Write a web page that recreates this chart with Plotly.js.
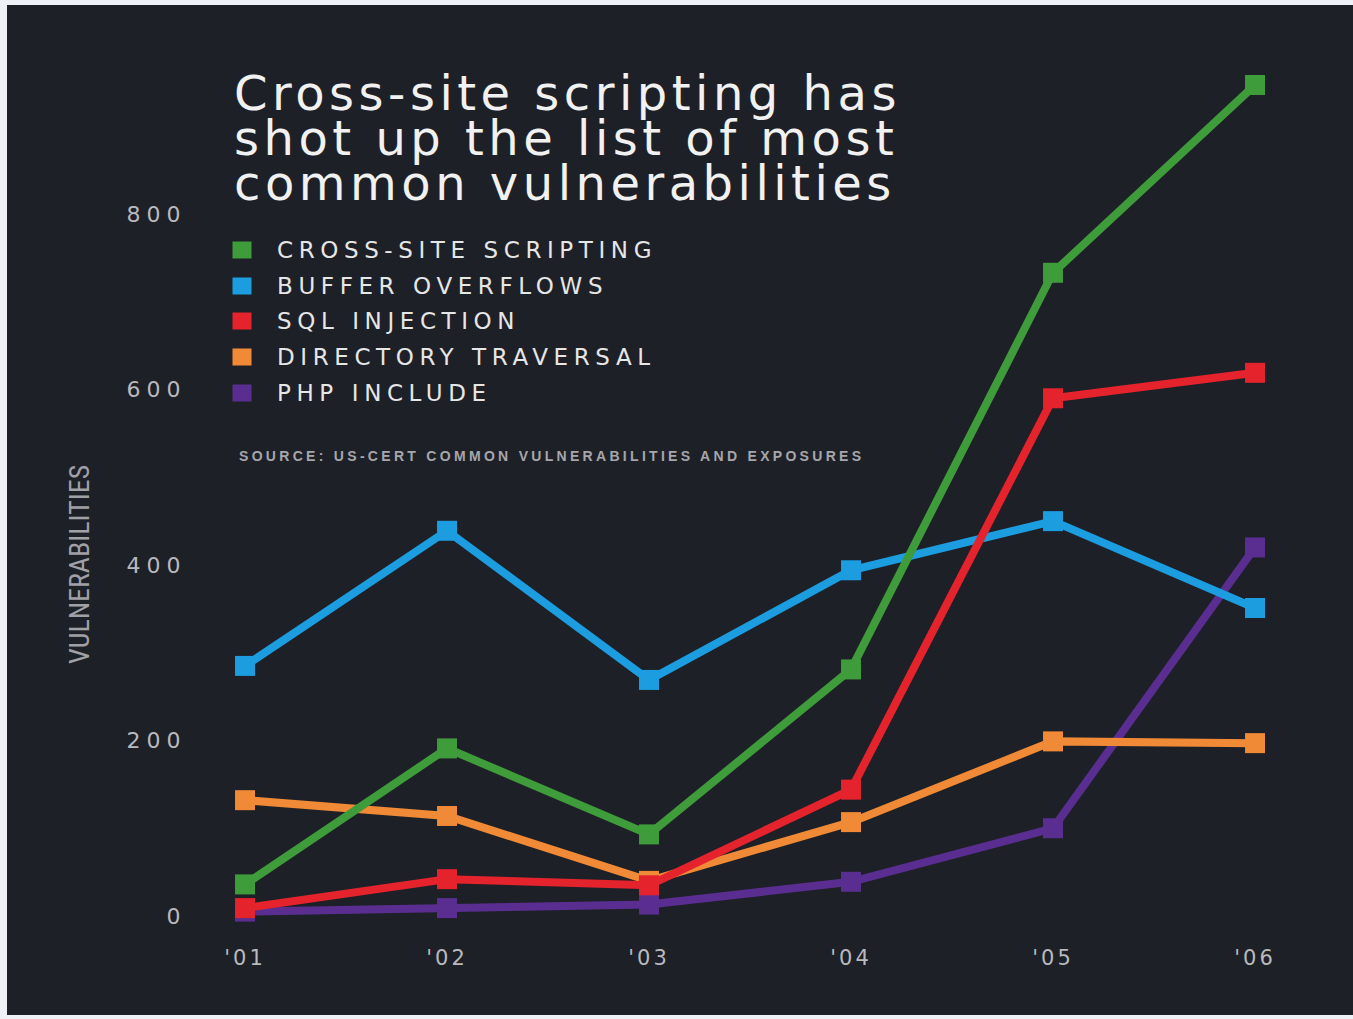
<!DOCTYPE html>
<html><head><meta charset="utf-8">
<script src="https://cdn.plot.ly/plotly-3.0.1.min.js"></script>
<style>
html,body{margin:0;padding:0;background:#eef1f5;width:1353px;height:1019px;overflow:hidden}
#chart{position:absolute;left:7px;top:5px;width:1346px;height:1010px}
.ytick text{letter-spacing:6px}
.xtick text{letter-spacing:3px}
</style></head><body><div id="chart"></div>
<script>
const years = [2001, 2002, 2003, 2004, 2005, 2006];
const yearLabels = ["'01", "'02", "'03", "'04", "'05", "'06"];
const yTicks = [0, 200, 400, 600, 800];
const seriesNames = ["CROSS-SITE SCRIPTING", "BUFFER OVERFLOWS", "SQL INJECTION", "DIRECTORY TRAVERSAL", "PHP INCLUDE"];
const seriesColors = ["#3f9c3a", "#1b9de0", "#e5232c", "#f08a36", "#5a2e90"];
const xss = [36, 191, 93, 281, 733, 947];
const buffer = [285, 439, 269, 394, 450, 351];
const sql = [9, 42, 35, 144, 590, 619];
const directory = [132, 114, 40, 107, 199, 197];
const php = [5, 9, 13, 39, 100, 420];
const titleLines = ["Cross-site scripting has", "shot up the list of most", "common vulnerabilities"];
const sourceText = "SOURCE: US-CERT COMMON VULNERABILITIES AND EXPOSURES";
const yTitle = "VULNERABILITIES";

const values = [xss, buffer, sql, directory, php];
const drawOrder = [4, 3, 1, 2, 0];
const traces = drawOrder.map(i => ({
  x: years, y: values[i], name: seriesNames[i], type: 'scatter', mode: 'lines+markers',
  line: {color: seriesColors[i], width: 8},
  marker: {color: seriesColors[i], size: 20, symbol: 'square'},
  cliponaxis: false, showlegend: false
}));

const annotations = [];
const titleY = [0.9678, 0.916, 0.864];
titleLines.forEach((t, k) => annotations.push({
  xref: 'paper', yref: 'paper', x: 0.027, y: titleY[k], xanchor: 'left', yanchor: 'middle',
  text: '<span style="letter-spacing:4.5px">' + t + '</span>', showarrow: false,
  font: {family: 'DejaVu Sans', size: 48, color: '#f1f1f1'}
}));
seriesNames.forEach((n, k) => {
  const yy = 0.7874 - k * 0.04103;
  annotations.push({
    xref: 'paper', yref: 'paper', x: 0.036, y: yy, xanchor: 'center', yanchor: 'middle',
    text: ' ', showarrow: false, width: 18, height: 16, bgcolor: seriesColors[k], borderpad: 0,
    font: {size: 4}
  });
  annotations.push({
    xref: 'paper', yref: 'paper', x: 0.0657, y: yy, xanchor: 'left', yanchor: 'middle',
    text: '<span style="letter-spacing:5.6px">' + n + '</span>', showarrow: false,
    font: {family: 'DejaVu Sans', size: 23, color: '#e6e6e6'}
  });
});
annotations.push({
  xref: 'paper', yref: 'paper', x: 0.0315, y: 0.5506, xanchor: 'left', yanchor: 'middle',
  text: '<span style="letter-spacing:3.3px"><b>' + sourceText + '</b></span>', showarrow: false,
  font: {family: 'Liberation Sans', size: 14, color: '#a6a6ac'}
});
annotations.push({
  xref: 'paper', yref: 'paper', x: -0.1098, y: 0.4253, xanchor: 'center', yanchor: 'middle',
  text: yTitle, textangle: -90, showarrow: false,
  font: {family: 'Liberation Sans Narrow, Roboto Condensed, Liberation Sans', size: 28, color: '#a0a0a6'}
});

const layout = {
  width: 1346, height: 1010,
  paper_bgcolor: '#1e2027', plot_bgcolor: '#1e2027',
  margin: {l: 195, r: 40, t: 60, b: 80},
  showlegend: false,
  xaxis: {
    range: [2000.787, 2006.287], tickvals: years, ticktext: yearLabels,
    showgrid: false, zeroline: false, showline: false,
    ticks: 'outside', ticklen: 4, tickcolor: 'rgba(0,0,0,0)',
    tickfont: {family: 'DejaVu Sans', size: 21, color: '#b9b9be'}
  },
  yaxis: {
    range: [-21.65, 969.8], tickvals: yTicks,
    showgrid: false, zeroline: false, showline: false,
    ticks: 'outside', ticklen: 10, tickcolor: 'rgba(0,0,0,0)',
    tickfont: {family: 'DejaVu Sans', size: 22, color: '#b9b9be'}
  },
  annotations: annotations
};
Plotly.newPlot('chart', traces, layout, {displayModeBar: false, staticPlot: true});
</script></body></html>
